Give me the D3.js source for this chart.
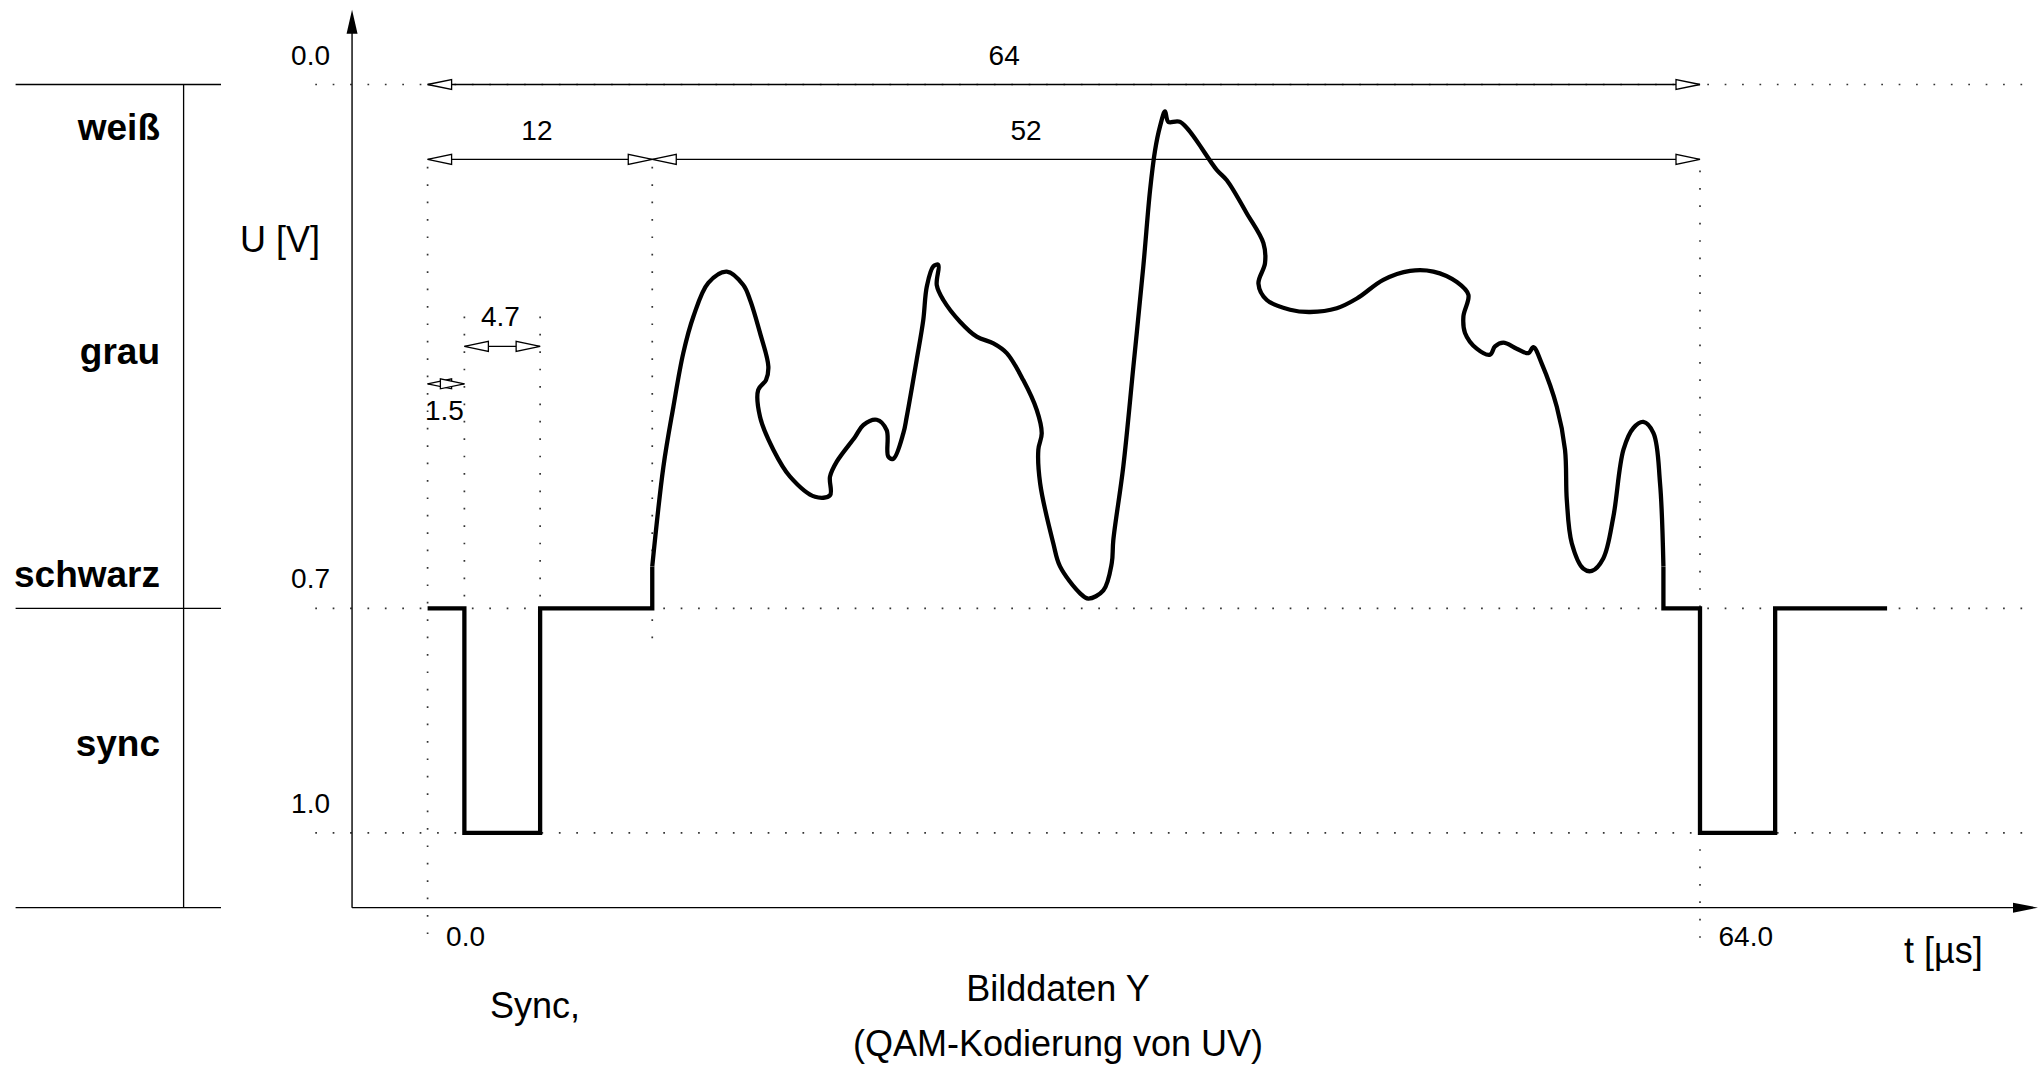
<!DOCTYPE html>
<html>
<head>
<meta charset="utf-8">
<script src="https://cdn.jsdelivr.net/npm/d3@7"></script>
<style>
  body { margin: 0; background: #fff; }
  svg { display: block; }
  text { font-family: "Liberation Sans", Arial, Helvetica, sans-serif; fill: #000; }
</style>
</head>
<body>
<script>
// t in µs, U in V (0.0 = weiß at the top, 1.0 = sync bottom)
var yTicks = [0.0, 0.7, 1.0];
var xTicks = [0.0, 64.0];

// sync / blanking before and after the active part
var syncA_t = [0, 1.85, 1.85, 5.66, 5.66, 11.30, 11.30];
var syncA_u = [0.70, 0.70, 1.00, 1.00, 0.70, 0.70, 0.644];
var syncB_t = [62.16, 62.16, 64.0, 64.0, 67.78, 67.78, 73.41];
var syncB_u = [0.644, 0.70, 0.70, 1.00, 1.00, 0.70, 0.70];

// active video (Bilddaten Y)
var video_t = [11.30, 11.86, 12.36, 12.86, 13.37, 14.12, 15.05, 15.88, 16.22, 16.72,
  17.14, 17.02, 16.63, 16.72, 17.39, 18.23, 19.49, 20.24, 20.24, 20.58,
  21.50, 21.92, 22.59, 23.09, 23.17, 23.43, 23.93, 24.10, 24.60, 24.93,
  25.11, 25.44, 25.69, 25.61, 25.94, 26.78, 27.62, 28.46, 29.13, 29.96,
  30.64, 30.89, 30.72, 30.81, 31.47, 31.81, 32.82, 33.23, 33.99, 34.41,
  34.49, 34.99, 35.50, 36.00, 36.34, 36.59, 36.84, 37.09, 37.26, 37.85,
  39.69, 40.20, 41.20, 42.04, 42.12, 41.79, 42.21, 43.38, 44.39, 45.73,
  46.74, 48.07, 49.42, 50.59, 51.77, 52.35, 52.10, 52.18, 52.77, 53.44,
  53.69, 54.11, 54.78, 55.37, 55.62, 56.04, 56.80, 57.21, 57.30, 57.55,
  58.13, 58.56, 59.14, 59.64, 60.15, 60.65, 61.15, 61.66, 61.99, 62.16];
var video_u = [0.644, 0.511, 0.431, 0.359, 0.310, 0.265, 0.250, 0.268, 0.288, 0.332,
  0.377, 0.395, 0.408, 0.444, 0.488, 0.524, 0.551, 0.549, 0.524, 0.504,
  0.471, 0.455, 0.448, 0.462, 0.497, 0.500, 0.466, 0.444, 0.368, 0.315,
  0.270, 0.243, 0.241, 0.268, 0.288, 0.317, 0.337, 0.346, 0.359, 0.395,
  0.435, 0.466, 0.488, 0.533, 0.613, 0.644, 0.680, 0.687, 0.676, 0.640,
  0.609, 0.511, 0.377, 0.243, 0.141, 0.088, 0.056, 0.036, 0.050, 0.050,
  0.114, 0.128, 0.172, 0.212, 0.239, 0.266, 0.288, 0.301, 0.304, 0.299,
  0.286, 0.261, 0.249, 0.250, 0.264, 0.281, 0.310, 0.332, 0.353, 0.361,
  0.350, 0.345, 0.353, 0.359, 0.351, 0.373, 0.431, 0.488, 0.555, 0.613,
  0.647, 0.650, 0.633, 0.578, 0.488, 0.459, 0.451, 0.466, 0.533, 0.644];

// dimension arrows
var dimFrom  = [0, 0, 11.30, 1.85, 0];
var dimTo    = [64, 11.30, 64, 5.66, 1.85];
var dimLevel = [0.0, 0.10, 0.10, 0.35, 0.40];
var dimText  = ["64", "12", "52", "4.7", "1.5"];
var dimTextT = [29.0, 5.5, 30.1, 3.66, 0.85];
var dimTextU = [-0.026, 0.074, 0.074, 0.323, 0.449];

// dotted guides (vertical)
var guideT    = [0, 1.85, 5.66, 11.30, 64];
var guideFrom = [0.11, 0.31, 0.31, 0.11, 0.115];
var guideTo   = [1.15, 0.70, 0.70, 0.755, 1.15];

// level names on the left
var levelNames = ["weiß", "grau", "schwarz", "sync"];
var levelNameU = [0.074, 0.373, 0.672, 0.897];
var levelLines = [0.0, 0.7, 1.1];

var width = 2044, height = 1065;
var svg = d3.select("body").append("svg")
  .attr("width", width)
  .attr("height", height);

var x = d3.scaleLinear().domain([0, 64]).range([427.6, 1700]);
var y = d3.scaleLinear().domain([0, 1]).range([84.5, 832.8]);

var axisX = x(-3.8);   // y axis position
var axisY = y(1.1);    // x axis position

function pts(ts, us) {
  return ts.map(function(t, i) { return {t: t, u: us[i]}; });
}

// ---- dotted guide lines
var dots = svg.append("g")
  .attr("stroke", "#333")
  .attr("stroke-width", 1.7)
  .attr("stroke-dasharray", "1.7,15.7");

dots.selectAll("line.h").data(yTicks).enter().append("line")
  .attr("x1", x(-5.65)).attr("x2", x(80.3))
  .attr("y1", function(d) { return y(d); })
  .attr("y2", function(d) { return y(d); });

dots.selectAll("line.v").data(guideT).enter().append("line")
  .attr("x1", function(d) { return x(d); })
  .attr("x2", function(d) { return x(d); })
  .attr("y1", function(d, i) { return y(guideFrom[i]); })
  .attr("y2", function(d, i) { return y(guideTo[i]); });

// ---- left level panel
var panel = svg.append("g").attr("stroke", "#000").attr("stroke-width", 1.3);
panel.selectAll("line.lvl").data(levelLines).enter().append("line")
  .attr("x1", 15.6).attr("x2", 221)
  .attr("y1", function(d) { return y(d); })
  .attr("y2", function(d) { return y(d); });
panel.append("line")
  .attr("x1", 183.6).attr("x2", 183.6)
  .attr("y1", y(0)).attr("y2", y(1.1));

svg.selectAll("text.level").data(levelNames).enter().append("text")
  .attr("class", "level")
  .attr("x", 160)
  .attr("y", function(d, i) { return y(levelNameU[i]); })
  .attr("text-anchor", "end")
  .attr("font-size", 37)
  .attr("font-weight", "bold")
  .text(function(d) { return d; });

// ---- axes
svg.append("line")
  .attr("x1", axisX).attr("x2", axisX)
  .attr("y1", axisY).attr("y2", y(-0.1) + 22)
  .attr("stroke", "#000").attr("stroke-width", 1.4);
svg.append("path")
  .attr("d", "M" + axisX + "," + y(-0.1) + "l-5.5,24h11z")
  .attr("fill", "#000");

svg.append("line")
  .attr("x1", axisX).attr("x2", x(81) - 22)
  .attr("y1", axisY).attr("y2", axisY)
  .attr("stroke", "#000").attr("stroke-width", 1.4);
svg.append("path")
  .attr("d", "M" + x(81) + "," + axisY + "l-25,-5v10z")
  .attr("fill", "#000");

var yAxis = svg.append("g")
  .attr("transform", "translate(" + axisX + ",0)")
  .call(d3.axisLeft(y).tickValues(yTicks).tickFormat(d3.format(".1f")).tickSize(0));
yAxis.select(".domain").remove();
yAxis.selectAll("text")
  .attr("x", -22).attr("y", -20.5).attr("dy", null)
  .attr("font-size", 28)
  .attr("font-family", "Liberation Sans, Arial, sans-serif");

var xAxis = svg.append("g")
  .attr("transform", "translate(0," + axisY + ")")
  .call(d3.axisBottom(x).tickValues(xTicks).tickFormat(d3.format(".1f")).tickSize(0));
xAxis.select(".domain").remove();
xAxis.selectAll("text")
  .attr("text-anchor", "start")
  .attr("x", 18).attr("y", 38.5).attr("dy", null)
  .attr("font-size", 28)
  .attr("font-family", "Liberation Sans, Arial, sans-serif");

svg.append("text").attr("x", 240).attr("y", 252)
  .attr("font-size", 36).text("U [V]");
svg.append("text").attr("x", 1904).attr("y", 963)
  .attr("font-size", 36).text("t [µs]");

// ---- dimension arrows
var dims = svg.selectAll("g.dim").data(dimText).enter().append("g").attr("class", "dim");
dims.append("line")
  .attr("x1", function(d, i) { return x(dimFrom[i]); })
  .attr("x2", function(d, i) { return x(dimTo[i]); })
  .attr("y1", function(d, i) { return y(dimLevel[i]); })
  .attr("y2", function(d, i) { return y(dimLevel[i]); })
  .attr("stroke", "#000").attr("stroke-width", 1.4);
dims.append("path")
  .attr("d", function(d, i) {
    var x0 = x(dimFrom[i]), yy = y(dimLevel[i]);
    return "M" + x0 + "," + yy + "l24,-5v10z";
  })
  .attr("fill", "#fff").attr("stroke", "#000").attr("stroke-width", 1.3);
dims.append("path")
  .attr("d", function(d, i) {
    var x1 = x(dimTo[i]), yy = y(dimLevel[i]);
    return "M" + x1 + "," + yy + "l-24,-5v10z";
  })
  .attr("fill", "#fff").attr("stroke", "#000").attr("stroke-width", 1.3);
dims.append("text")
  .attr("x", function(d, i) { return x(dimTextT[i]); })
  .attr("y", function(d, i) { return y(dimTextU[i]); })
  .attr("text-anchor", "middle")
  .attr("font-size", 28)
  .text(function(d) { return d; });

// ---- signal
var stepLine = d3.line()
  .x(function(d) { return x(d.t); })
  .y(function(d) { return y(d.u); });
var smoothLine = d3.line()
  .x(function(d) { return x(d.t); })
  .y(function(d) { return y(d.u); })
  .curve(d3.curveCatmullRom.alpha(0.5));

var sig = svg.append("g")
  .attr("fill", "none")
  .attr("stroke", "#000")
  .attr("stroke-width", 4.3)
  .attr("stroke-linejoin", "miter");
sig.append("path").attr("d", stepLine(pts(syncA_t, syncA_u)));
sig.append("path").attr("d", smoothLine(pts(video_t, video_u))).attr("stroke-linejoin", "round");
sig.append("path").attr("d", stepLine(pts(syncB_t, syncB_u)));

// ---- captions
svg.append("text").attr("x", 490).attr("y", 1018)
  .attr("font-size", 36).text("Sync,");
svg.append("text").attr("x", 1058).attr("y", 1001)
  .attr("text-anchor", "middle").attr("font-size", 36).text("Bilddaten Y");
svg.append("text").attr("x", 1058).attr("y", 1056)
  .attr("text-anchor", "middle").attr("font-size", 36).text("(QAM-Kodierung von UV)");
</script>
</body>
</html>
